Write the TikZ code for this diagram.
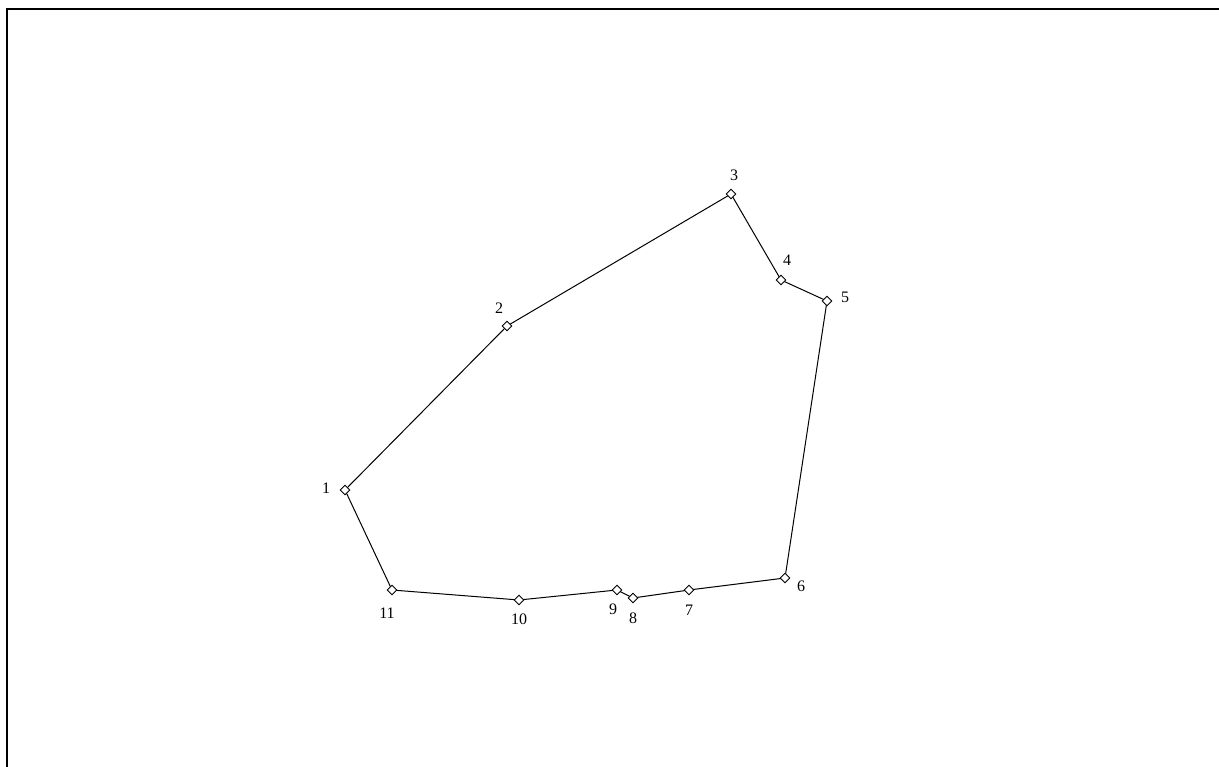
\documentclass[tikz,border=0pt]{standalone}
\usepackage{fontspec}
\setmainfont{Liberation Serif}
\usetikzlibrary{shapes.geometric}
\begin{document}
\begin{tikzpicture}[x=1pt,y=-1pt,
  vtx/.style={draw,diamond,inner sep=0pt,minimum size=10pt,line width=0.9pt,fill=white},
  lbl/.style={font=\fontsize{16}{18}\selectfont,inner sep=0pt},
  edge/.style={line width=1pt}]
\useasboundingbox (0,0) rectangle (1219,767);
\draw[line width=2.5pt] (7,767) -- (7,9) -- (1219,9);
\coordinate (p1) at (345,490);
\coordinate (p2) at (507,326);
\coordinate (p3) at (731,194);
\coordinate (p4) at (781,280);
\coordinate (p5) at (827,301);
\coordinate (p6) at (785,578);
\coordinate (p7) at (689,590);
\coordinate (p8) at (633,598);
\coordinate (p9) at (617,590);
\coordinate (p10) at (519,600);
\coordinate (p11) at (392,590);
\draw[edge] (p1) -- (p2) -- (p3) -- (p4) -- (p5) -- (p6) -- (p7) -- (p8) -- (p9) -- (p10) -- (p11) -- cycle;
\foreach \i in {1,...,11} { \node[vtx] (v\i) at (p\i) {}; }
\node[lbl] (l1) at (326,488) {1};
\node[lbl] (l2) at (499,308) {2};
\node[lbl] (l3) at (734,175) {3};
\node[lbl] (l4) at (787,260) {4};
\node[lbl] (l5) at (845,297) {5};
\node[lbl] (l6) at (801,586) {6};
\node[lbl] (l7) at (689,610) {7};
\node[lbl] (l8) at (633,618) {8};
\node[lbl] (l9) at (613,609) {9};
\node[lbl] (l10) at (519,619) {10};
\node[lbl] (l11) at (387,613) {11};
\end{tikzpicture}
\end{document}
